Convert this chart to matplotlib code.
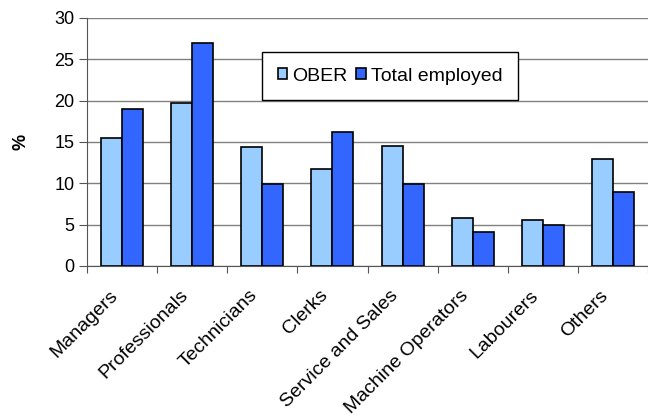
import matplotlib
matplotlib.use("Agg")
import matplotlib.pyplot as plt
import matplotlib.transforms as mtransforms
import numpy as np

plt.rcParams['font.family'] = ['Liberation Sans', 'DejaVu Sans']

# occupation shares (%)
categories = ['Managers', 'Professionals', 'Technicians', 'Clerks',
              'Service and Sales', 'Machine Operators', 'Labourers', 'Others']
ober = [15.5, 19.7, 14.4, 11.7, 14.5, 5.8, 5.6, 13.0]
total_employed = [19.0, 27.0, 9.9, 16.2, 9.9, 4.1, 5.0, 8.9]

fig = plt.figure(figsize=(6.48, 4.19), dpi=100)
ax = fig.add_axes([87/648, 1 - 266/419, 561/648, 248/419])

x = np.arange(len(categories))
w = 0.3
ax.bar(x - w/2, ober, w, color='#99CCFF', edgecolor='black', linewidth=1.2,
       label='OBER', zorder=3)
ax.bar(x + w/2, total_employed, w, color='#3366FF', edgecolor='black',
       linewidth=1.2, label='Total employed', zorder=3)

ax.set_xlim(-0.5, len(categories) - 0.5)
ax.set_ylim(0, 30)
ax.set_yticks(range(0, 31, 5))
ax.yaxis.grid(True, color='#808080', linewidth=1, zorder=0)
ax.set_axisbelow(True)

for s in ['top', 'right']:
    ax.spines[s].set_visible(False)
ax.spines['left'].set_color('#555555')
ax.spines['bottom'].set_color('#555555')

# category ticks sit between the groups
ax.set_xticks(np.arange(len(categories) + 1) - 0.5, minor=False)
ax.set_xticklabels([])
ax.set_xticks(x, minor=True)
ax.set_xticklabels(categories, minor=True, rotation=45, ha='right',
                   rotation_mode='anchor', fontsize=14)
ax.tick_params(axis='x', which='minor', length=0, pad=15)
ax.tick_params(axis='x', which='major', length=5, color='#555555', direction='out')
ax.tick_params(axis='y', length=6, color='#555555', labelsize=13, pad=3)

shift = mtransforms.ScaledTranslation(-13/100, 0, fig.dpi_scale_trans)
for lab in ax.get_xticklabels(minor=True):
    lab.set_transform(lab.get_transform() + shift)

ax.set_ylabel('%', fontsize=13, fontweight='bold', labelpad=18)

leg = ax.legend(loc='upper left', bbox_to_anchor=(0.312, 0.863), ncol=2,
                fontsize=14, frameon=True, fancybox=False, handlelength=0.5,
                handleheight=0.5, handletextpad=0.25, columnspacing=0.45,
                borderpad=0.8, borderaxespad=0)
leg.get_frame().set_edgecolor('black')
leg.get_frame().set_linewidth(1)
leg.get_frame().set_alpha(1)

fig.savefig('out.png', dpi=100)
